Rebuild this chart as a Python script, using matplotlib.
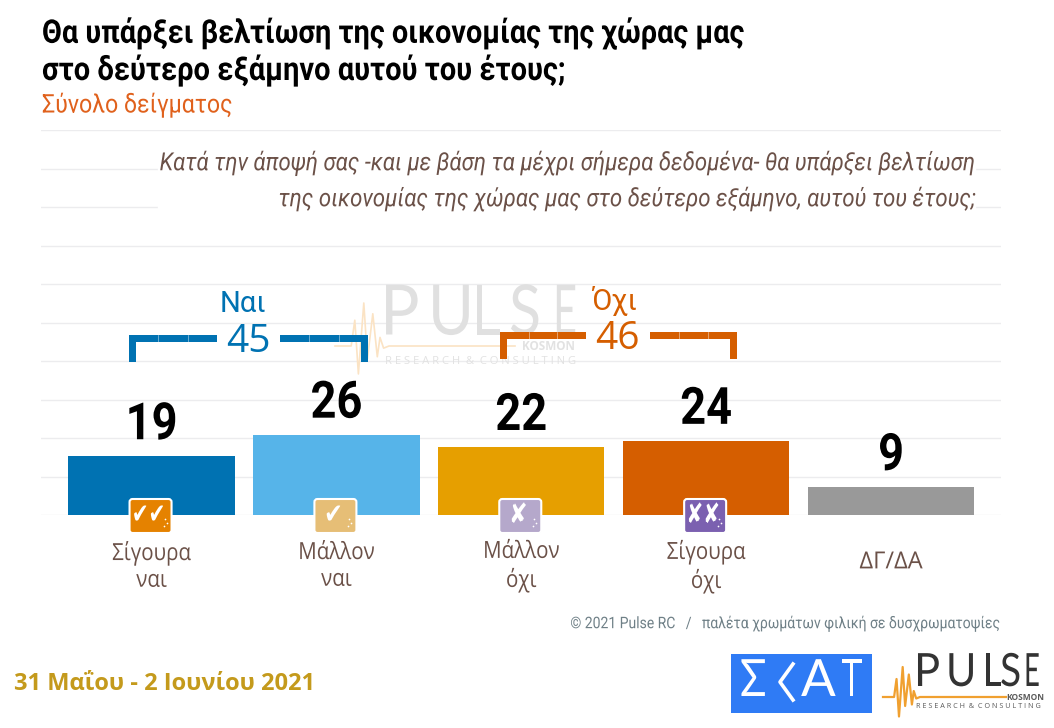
import numpy as np
import matplotlib
matplotlib.use('Agg')
import matplotlib.pyplot as plt
from matplotlib.patches import FancyBboxPatch, Rectangle
from matplotlib.patheffects import AbstractPathEffect
from matplotlib.transforms import Affine2D, ScaledTranslation

# Survey results
categories = ['Σίγουρα\nναι', 'Μάλλον\nναι', 'Μάλλον\nόχι', 'Σίγουρα\nόχι', 'ΔΓ/ΔΑ']
values = [19, 26, 22, 24, 9]
bar_colors = ['#0072B2', '#56B4E9', '#E69F00', '#D55E00', '#999999']
icon_marks = ['✔✔', '✔', '✘', '✘✘']
icon_colors = ['#E58200', '#E6BE76', '#B5A8CB', '#7B60B0']
group_names = ['Ναι', 'Όχι']
group_totals = [45, 46]
group_colors = ['#0072B2', '#D55E00']

W, H = 1054, 728


class Condensed(AbstractPathEffect):
    """Squeeze glyph outlines horizontally around a pixel anchor."""

    def __init__(self, anchor, sx):
        super().__init__()
        self.anchor = anchor
        self.sx = sx

    def draw_path(self, renderer, gc, tpath, affine, rgbFace=None):
        squeeze = Affine2D().translate(-self.anchor, 0).scale(self.sx, 1).translate(self.anchor, 0)
        renderer.draw_path(gc, tpath, affine + squeeze, rgbFace)


def narrow(text, anchor, sx=0.885):
    text.set_path_effects([Condensed(anchor, sx)])
    return text


fig = plt.figure(figsize=(W / 100, H / 100), dpi=100)
ax = fig.add_axes([41 / W, 1 - 515 / H, 960 / W, 385 / H])

x = np.arange(len(values))
bars = ax.bar(x, values, width=0.9, color=bar_colors, zorder=3)
ax.set_xlim(-0.598, 4.595)
ax.set_ylim(0, 125)
ax.set_yticks(np.arange(0, 126, 12.5))
ax.set_yticklabels([])
ax.set_xticks(x)
ax.set_xticklabels(categories, fontsize=17, family='Open Sans', color='#6B5148', linespacing=1.15, va='center')
ax.tick_params(length=0)
ax.tick_params(axis='x', pad=37)
ax.grid(axis='y', color='#ECECEE', lw=1, zorder=0)
ax.set_axisbelow(True)
for s in ax.spines.values():
    s.set_visible(False)

centers = [ax.transData.transform((i, 0))[0] for i in x]
labels = ax.bar_label(bars, labels=[str(v) for v in values], padding=4.5, fontsize=37,
                      fontweight='bold', family='Roboto', color='black')
for lab, cx in zip(labels, centers):
    narrow(lab, cx, 0.88)
for lab, cx in zip(ax.get_xticklabels()[:-1], centers):
    narrow(lab, cx, 0.87)
# the one-line label is wider and sits a little higher than the two-line ones
last = ax.get_xticklabels()[-1]
narrow(last, centers[-1], 1.0)
last.set_transform(last.get_transform() + ScaledTranslation(0, 4 / 100, fig.dpi_scale_trans))

# overlay in pixel coordinates for titles, brackets and logos
ov = fig.add_axes([0, 0, 1, 1], facecolor='none')
ov.set_xlim(0, W)
ov.set_ylim(H, 0)
ov.axis('off')

narrow(ov.text(42, 33, 'Θα υπάρξει βελτίωση της οικονομίας της χώρας μας', fontsize=23.5, fontweight='bold',
               family='Roboto', va='center', color='black'), 42)
narrow(ov.text(42, 70, 'στο δεύτερο εξάμηνο αυτού του έτους;', fontsize=23.5, fontweight='bold',
               family='Roboto', va='center', color='black'), 42, 0.89)
narrow(ov.text(42, 105, 'Σύνολο δείγματος', fontsize=18.5, family='Roboto', va='center', color='#E0611C'), 42, 0.9)

# the question sits on a white patch that interrupts the grid
ov.add_patch(Rectangle((158, 150), 817, 62, color='white', zorder=1))
question = ['Κατά την άποψή σας -και με βάση τα μέχρι σήμερα δεδομένα- θα υπάρξει βελτίωση',
            'της οικονομίας της χώρας μας στο δεύτερο εξάμηνο, αυτού του έτους;']
for line, yy in zip(question, [163, 199]):
    narrow(ov.text(976, yy, line, fontsize=18, style='italic', family='Roboto', ha='right', va='center',
                   color='#6B5148', zorder=2), 976, 0.888)

narrow(ov.text(1001.5, 623, '© 2021 Pulse RC   /   παλέτα χρωμάτων φιλική σε δυσχρωματοψίες', fontsize=11.5,
               family='Roboto', ha='right', va='center', color='#6F8087'), 1001.5, 0.875)
ov.text(14, 684, '31 Μαΐου - 2 Ιουνίου 2021', fontsize=17, fontweight='bold', family='Open Sans',
        va='center', color='#C49A1C')


def spaced(letters, xs, widths, y, **kw):
    for ch, xx, sx in zip(letters, xs, widths):
        narrow(ov.text(xx, y, ch, ha='left', va='center', **kw), xx, sx)


# heartbeat trace, x and y relative to logo width and trace height
beat_x = np.array([0, 0.09, 0.11, 0.13, 0.16, 0.18, 0.21, 0.235, 0.25, 0.27, 0.30, 1])
beat_y = np.array([0, 0, 0.6, -0.65, 1.0, -0.3, 0.75, -0.25, 0.2, -0.05, 0, 0])
word_widths = [0.95, 0.9, 0.8, 0.85, 0.6]


def pulse_logo(x0, x1, base, up, word_xs, word_y, word_size, kos_x, kos_size, res_x, res_y, res_size,
               word_col, line_col, small_col, lw):
    ov.plot(x0 + (x1 - x0) * beat_x, base - up * beat_y, color=line_col, lw=lw, zorder=0.5)
    spaced('PULSE', word_xs, word_widths, word_y, fontsize=word_size, family='Lato', color=word_col, zorder=0.5)
    ov.text(kos_x, base, 'KOSMON', fontsize=kos_size, fontweight='bold', family='Open Sans',
            color=small_col, va='center', zorder=0.5)
    ov.text(res_x, res_y, 'R E S E A R C H  &  C O N S U L T I N G', fontsize=res_size, family='Open Sans',
            color=small_col, va='center', zorder=0.5)


# faint watermark behind the chart
pulse_logo(335, 515, 346, 43, [380, 428, 472, 509, 553], 315, 50, 522, 8.5, 385, 361, 8.1,
           '#E0E0E0', '#FBE3C4', '#E2E2E2', 1.2)

# group brackets above the bars
gaps = [(129, 217, 280, 368, 335), (500, 586, 650, 737, 332)]
label_pos = [(248, 342, 243, 304), (617, 339, 614, 301)]
for name, total, col, g, p in zip(group_names, group_totals, group_colors, gaps, label_pos):
    l0, l1, r0, r1, top = g
    low = top + 27
    ov.add_patch(Rectangle((l0, top), l1 - l0, 7, color=col, lw=0, zorder=4))
    ov.add_patch(Rectangle((r0, top), r1 - r0, 7, color=col, lw=0, zorder=4))
    ov.add_patch(Rectangle((l0, top), 7, low - top, color=col, lw=0, zorder=4))
    ov.add_patch(Rectangle((r1 - 7, top), 7, low - top, color=col, lw=0, zorder=4))
    for a, b in [(l0, l1), (r0, r1)]:
        for f in (1 / 3, 2 / 3):
            ov.plot([a + (b - a) * f] * 2, [top, top + 7], color='white', lw=0.5, alpha=0.6, zorder=5)
    ov.text(p[0], p[1], str(total), fontsize=28, family='Open Sans', color=col, ha='center', va='center', zorder=4)
    ov.text(p[2], p[3], name, fontsize=21, family='Roboto', color=col, ha='center', va='center', zorder=4)

# answer icons straddling the baseline
for cx, mark, col in zip(centers, icon_marks, icon_colors):
    ov.add_patch(FancyBboxPatch((cx - 21, 500), 40, 32, boxstyle='round,pad=1,rounding_size=3',
                                facecolor=col, edgecolor='white', lw=1.5, zorder=6))
    sx = 0.72 if len(mark) > 1 else 0.8
    narrow(ov.text(cx - 3, 515, mark, fontsize=20, family='DejaVu Sans', color='white',
                   ha='center', va='center', zorder=7), cx - 3, sx)
    ov.scatter([cx + 13, cx + 15, cx + 12], [519, 523, 526], s=1.5, color='white', lw=0, zorder=7)

# broadcaster logo
ov.add_patch(Rectangle((731, 654), 141, 59, color='#2F7BF5', lw=0, zorder=1))
spaced(['Σ', 'Α', 'Τ'], [740, 801, 841], [0.85, 1.0, 0.7], 682, fontsize=37, family='Lato', color='white', zorder=2)
ov.plot([793, 780, 793], [664, 682, 700], color='white', lw=2.6, zorder=2)

pulse_logo(883, 1006, 697, 30, [914, 946, 983, 1000, 1024], 673, 33, 1006, 6, 916, 707, 5.25,
           '#333333', '#F0A030', '#5A5A5A', 1.6)

fig.savefig('out.png', dpi=100)
